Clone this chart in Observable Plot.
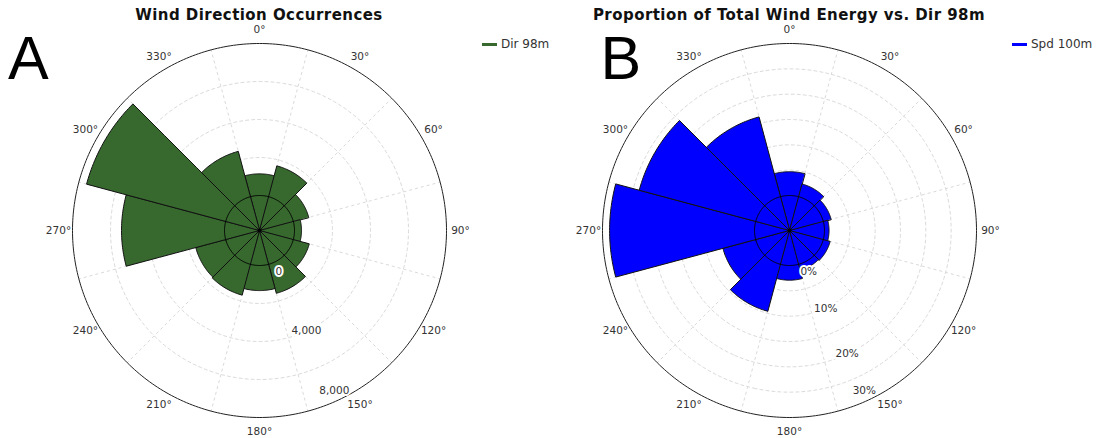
<!DOCTYPE html>
<html><head><meta charset="utf-8">
<script src="https://cdn.jsdelivr.net/npm/d3@7"></script>
<script src="https://cdn.jsdelivr.net/npm/@observablehq/plot@0.6"></script>
<style>
body{margin:0;background:#fff;}
#wrap{position:relative;width:1097px;height:438px;overflow:hidden;font-family:"DejaVu Sans",sans-serif;}
.panel{position:absolute;top:0;}
.title{position:absolute;top:7px;line-height:16px;font-weight:bold;font-size:15px;letter-spacing:0.45px;color:#111;white-space:nowrap;transform:translateX(-50%);}
.letter{position:absolute;top:34px;font-family:"Liberation Sans",Arial,sans-serif;font-size:61px;line-height:48px;color:#000;}
.legend{position:absolute;top:37px;line-height:14px;font-size:12px;color:#333;display:flex;align-items:center;white-space:nowrap;}
.legend i{display:inline-block;width:15px;height:3px;margin-right:4px;}
</style></head><body>
<div id="wrap"></div>
<script>
// ---- data ----
const directions = [0, 30, 60, 90, 120, 150, 180, 210, 240, 270, 300, 330];
const occurrences = [1140, 1680, 840, 370, 870, 1580, 1320, 1680, 1630, 5420, 7580, 2470];
const energyPct = [4.7, 2.6, 1.6, 0.9, 1.4, 1.2, 2.9, 9.6, 6.7, 28.6, 23.8, 16.3];
const angleTicks = [0, 30, 60, 90, 120, 150, 180, 210, 240, 270, 300, 330];
const angleLabels = ["0°", "30°", "60°", "90°", "120°", "150°", "180°", "210°", "240°", "270°", "300°", "330°"];
const occTicks = [0, 4000, 8000];
const occTickLabels = ["0", "4,000", "8,000"];
const occGrid = [2000, 4000, 6000];
const pctTicks = [0, 10, 20, 30];
const pctTickLabels = ["0%", "10%", "20%", "30%"];
const pctGrid = [5, 10, 15, 20, 25];

// ---- layout constants ----
const R_PX = 187, HOLE_PX = 35, LABEL_PX = 201;
const HOLE = HOLE_PX / R_PX;
const OUTER = 90; // arc degrees of the outer ring
const lon = t => 180 - t;
const rho = (v, max) => OUTER * (HOLE + (1 - HOLE) * v / max);
const lat = (v, max) => 90 - rho(v, max);
const circle = r => d3.geoCircle().center([0, 90]).radius(r).precision(1)();

function sector(center, v, max, half = 15) {
  const a = lon(center + half), b = lon(center - half);
  const inner = 90 - 1e-4, outer = lat(v, max);
  const ring = [];
  for (let l = a; l <= b + 1e-9; l += 1) ring.push([l, inner]);
  for (let l = b; l >= a - 1e-9; l -= 1) ring.push([l, outer]);
  ring.push(ring[0]);
  return {type: "Feature", properties: {}, geometry: {type: "Polygon", coordinates: [ring]}};
}

function rose({values, max, grid, ticks, tickLabels, color}) {
  const labelRho = v => {
    const px = Math.min(Math.max(HOLE_PX + (R_PX - HOLE_PX) * v / max, HOLE_PX + 10.5), R_PX - 10);
    return 90 - OUTER * px / R_PX;
  };
  return Plot.plot({
    width: 518, height: 438,
    marginTop: 43, marginBottom: 21, marginLeft: 72, marginRight: 72,
    style: {fontFamily: "DejaVu Sans, sans-serif", background: "transparent"},
    projection: {type: "azimuthal-equidistant", rotate: [0, -90], domain: circle(OUTER), clip: false},
    marks: [
      Plot.geo(grid.map(v => circle(rho(v, max))), {fill: "none", stroke: "#dadada", strokeDasharray: "3,3", strokeWidth: 1}),
      Plot.link(angleTicks.map(t => t + 15), {
        x1: t => lon(t), y1: () => lat(0, max), x2: t => lon(t), y2: () => 90 - OUTER,
        stroke: "#dadada", strokeDasharray: "3,3", strokeWidth: 1
      }),
      Plot.geo([circle(OUTER)], {fill: "none", stroke: "#222", strokeWidth: 1}),
      Plot.geo(directions.map((d, i) => sector(d, values[i], max)), {fill: color, stroke: "#111", strokeWidth: 1}),
      Plot.geo([circle(rho(0, max))], {fill: "none", stroke: "#000", strokeWidth: 1}),
      Plot.dot([0], {x: () => 0, y: () => 90, r: 2, fill: "#000"}),
      Plot.text(angleTicks, {
        x: t => lon(t), y: () => 90 - OUTER * LABEL_PX / R_PX,
        text: (t, i) => angleLabels[i], fontSize: 10.5, fill: "#333"
      }),
      Plot.text(ticks, {
        x: () => lon(155), y: v => labelRho(v),
        text: (v, i) => tickLabels[i], fontSize: 10.5, fill: "#333",
        stroke: "white", strokeWidth: 4, strokeLinejoin: "miter"
      })
    ]
  });
}

const wrap = document.getElementById("wrap");
function add(el, cls, left, html) {
  const d = document.createElement("div");
  d.className = cls; d.style.left = left + "px";
  if (el) d.appendChild(el); else d.innerHTML = html;
  wrap.appendChild(d);
  return d;
}
add(rose({values: occurrences, max: 8000, grid: occGrid, ticks: occTicks, tickLabels: occTickLabels, color: "#37692f"}), "panel", 0);
add(rose({values: energyPct, max: 30, grid: pctGrid, ticks: pctTicks, tickLabels: pctTickLabels, color: "#0000ff"}), "panel", 530);
add(null, "title", 259, "Wind Direction Occurrences");
add(null, "title", 789, "Proportion of Total Wind Energy vs. Dir 98m");
add(null, "letter", 8, "A");
add(null, "letter", 600.5, "B");
add(null, "legend", 482, '<i style="background:#37692f"></i>Dir 98m');
add(null, "legend", 1012, '<i style="background:#0000ff"></i>Spd 100m');
</script>
</body></html>
